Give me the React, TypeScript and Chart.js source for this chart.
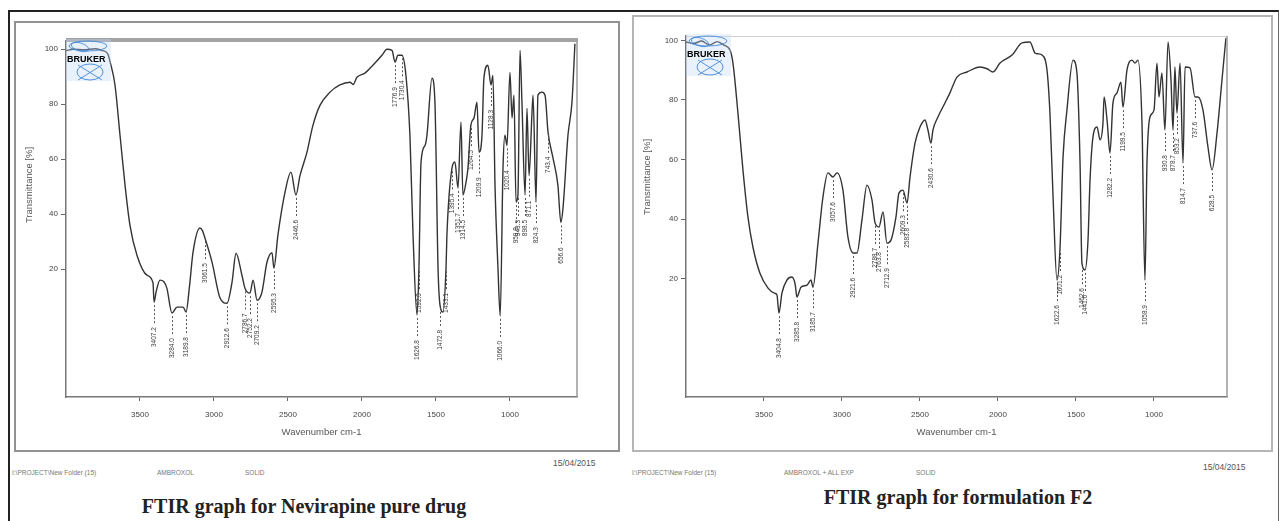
import React, { useEffect, useRef } from "react";
import { Chart, registerables } from "chart.js";

Chart.register(...registerables);

// ---------- DATA ----------
const leftWavenumbers = [
  4000, 3950, 3880, 3800, 3760, 3720, 3700, 3669, 3635, 3601, 3568, 3520, 3453, 3412, 3405, 3390, 3365, 3340, 3318, 3284,
  3250, 3209, 3189, 3165, 3142, 3095, 3078, 3061, 3013, 2959, 2912, 2878, 2851, 2811, 2790, 2757, 2736, 2709, 2676, 2642,
  2608, 2595, 2568, 2520, 2480, 2446, 2419, 2372, 2331, 2284, 2216, 2149, 2081, 2060, 2034, 1980, 1926, 1865, 1831, 1797,
  1777, 1757, 1730, 1703, 1676, 1655, 1628, 1615, 1601, 1574, 1561, 1527, 1507, 1486, 1473, 1453, 1432, 1426, 1392, 1372,
  1351, 1331, 1318, 1297, 1284, 1264, 1243, 1223, 1209, 1189, 1176, 1149, 1128, 1115, 1101, 1081, 1066, 1047, 1034, 1020,
  1000, 986, 973, 959, 946, 932, 919, 898, 885, 871, 851, 844, 824, 811, 784, 763, 743, 709, 676, 656,
  642, 608, 581, 561,
];
const leftTransmittance = [
  99.5, 100, 99.8, 100.2, 99.6, 98.5, 95, 87, 68.7, 50.5, 36, 25, 17.8, 15, 8, 12, 16, 15.5, 13, 4,
  6.2, 6.2, 4.4, 14, 26, 35, 34, 31.3, 22.5, 9.5, 7.6, 15.3, 25.8, 17.8, 13, 11.3, 16, 8.7, 11.6, 22.5,
  26, 20.4, 32.4, 48, 55.3, 47, 54, 62.5, 72.4, 79.6, 84.4, 87, 88, 87.2, 89.8, 91.3, 94.2, 97.8, 100, 99.6,
  95.3, 97.8, 97.8, 90.5, 68.7, 32.4, 3.3, 20.4, 59, 65, 68.7, 89.5, 80.7, 20.4, 7, 4.4, 20.4, 32.4, 56.7, 59,
  49.5, 73.5, 47, 51.6, 56.7, 72.4, 75, 80.7, 62.5, 68.7, 89.5, 94.2, 87, 90.5, 50.5, 20.4, 3, 56.7, 68.7, 65,
  91.6, 75, 83.3, 44.4, 47, 99.6, 80.7, 47, 78.5, 54, 77, 83.3, 44.4, 83.3, 84.4, 83.3, 70, 60.4, 50.5, 37,
  42, 68.7, 80.7, 102,
];
const leftPeakWavenumbers = [
  3405, 3284, 3189, 3061, 2912, 2790, 2757, 2709, 2595, 2446, 1777, 1730, 1628, 1615, 1473, 1432, 1392, 1351, 1318, 1264,
  1209, 1128, 1066, 1020, 959, 946, 898, 871, 824, 743, 656,
];
const leftPeakLabels = [
  "3407.2", "3284.0", "3189.8", "3061.5", "2912.6", "2786.7", "2752.2", "2709.2", "2595.3", "2446.6", "1776.9", "1730.4",
  "1626.8", "1592.0", "1472.8", "1433.1", "1395.4", "1351.7", "1314.5", "1264.5", "1209.9", "1128.3", "1066.0", "1020.4",
  "959.8", "943.3", "898.5", "871.1", "824.3", "743.4", "656.6",
];

const rightWavenumbers = [
  4000, 3950, 3900, 3850, 3800, 3760, 3718, 3699, 3667, 3635, 3603, 3571, 3526, 3474, 3430, 3417, 3404, 3385, 3353, 3321,
  3300, 3289, 3263, 3224, 3199, 3186, 3154, 3122, 3090, 3058, 3032, 2994, 2962, 2929, 2904, 2872, 2840, 2808, 2788, 2763,
  2737, 2712, 2686, 2654, 2635, 2609, 2583, 2564, 2532, 2500, 2468, 2449, 2430, 2417, 2385, 2340, 2308, 2263, 2199, 2115,
  2070, 2032, 1987, 1910, 1846, 1795, 1763, 1740, 1718, 1686, 1667, 1647, 1622, 1603, 1583, 1558, 1519, 1494, 1474, 1462,
  1442, 1423, 1410, 1391, 1365, 1346, 1327, 1320, 1301, 1282, 1263, 1237, 1212, 1199, 1173, 1141, 1122, 1103, 1077, 1058,
  1045, 1026, 1000, 981, 968, 949, 930, 910, 891, 878, 866, 853, 833, 814, 801, 769, 737, 718, 686, 654,
  628, 596, 566, 539,
];
const rightTransmittance = [
  99.5, 99, 99.8, 98.5, 99.6, 98.5, 96.8, 92.4, 75.6, 56.5, 40.7, 30.6, 21.8, 16.8, 15, 14.5, 8.4, 15.1, 19.5, 20.5,
  18, 13.8, 17.1, 17.8, 19.5, 17.1, 31.9, 47.4, 55.5, 54.1, 55.5, 49.7, 34, 28.6, 28.6, 39.7, 51.4, 46.4, 38.7, 37.3,
  42.4, 31.9, 32.9, 40.7, 48.7, 49.7, 45.4, 54.1, 65.5, 70.9, 73.3, 69.9, 65.5, 69.9, 74.3, 79, 82.4, 87.7, 89.4, 91.1,
  90.5, 89.4, 92.4, 95.1, 99.2, 99.5, 95.8, 95.5, 95.1, 90.1, 75.6, 47.4, 19.5, 29.6, 60.8, 76.6, 93.4, 89.1, 58.8, 25.2,
  22.9, 32.9, 53.1, 67.6, 70.9, 66.6, 72.3, 81, 73.3, 62.2, 79, 82.4, 86, 77.6, 90.1, 93.4, 92.4, 93.4, 72.3, 19.5,
  58.8, 74.3, 76.6, 92.4, 81, 89.1, 69.9, 99.5, 86.7, 69.9, 91.1, 75.6, 92.4, 58.8, 91.1, 90.8, 81, 81, 76.6, 64.2,
  56.5, 68.9, 85.7, 100.8,
];
const rightPeakWavenumbers = [
  3404, 3289, 3186, 3058, 2929, 2788, 2763, 2712, 2609, 2583, 2430, 1622, 1603, 1462, 1442, 1282, 1199, 1058, 930, 878,
  853, 814, 737, 628,
];
const rightPeakLabels = [
  "3404.8", "3285.8", "3185.7", "3057.6", "2921.6", "2788.7", "2763.8", "2712.9", "2609.3", "2583.8", "2430.6", "1622.6",
  "1601.2", "1462.6", "1441.6", "1282.2", "1199.5", "1058.9", "930.8", "878.7", "853.2", "814.7", "737.6", "628.5",
];

const xTickValues = [3500, 3000, 2500, 2000, 1500, 1000];
const yTickValues = [20, 40, 60, 80, 100];

// ---------- COMPONENT ----------
type SpecProps = {
  wn: number[];
  t: number[];
  peakWn: number[];
  peakLabels: string[];
  xMin: number;
  yMin: number;
  yMax: number;
  left: number;
  top: number;
  width: number;
  height: number;
  padTop: number;
  padRight: number;
  yAxisWidth: number;
  thickTop: boolean;
  yTitleX: number;
  yTitleY: number;
  xTitleY: number;
};

function Spectrum(p: SpecProps) {
  const ref = useRef<HTMLCanvasElement | null>(null);
  useEffect(() => {
    const data = p.wn.map((w, i) => ({ x: w, y: p.t[i] }));
    const overlay = {
      id: "overlay",
      afterDatasetsDraw(chart: any) {
        const { ctx, chartArea: a, scales } = chart;
        const xs = scales.x;
        const ys = scales.y;
        ctx.save();
        // frame: top and right
        if (p.thickTop) {
          ctx.strokeStyle = "#a3a3a3";
          ctx.lineWidth = 4;
          ctx.beginPath();
          ctx.moveTo(a.left, a.top - 1);
          ctx.lineTo(a.right + 1, a.top - 1);
          ctx.stroke();
        } else {
          ctx.strokeStyle = "#cfcfcf";
          ctx.lineWidth = 1;
          ctx.beginPath();
          ctx.moveTo(a.left, a.top + 0.5);
          ctx.lineTo(a.right, a.top + 0.5);
          ctx.stroke();
        }
        ctx.strokeStyle = "#9a9a9a";
        ctx.lineWidth = 1.5;
        ctx.beginPath();
        ctx.moveTo(a.right, a.top);
        ctx.lineTo(a.right, a.bottom);
        ctx.stroke();

        // peak labels
        ctx.fillStyle = "#3a3a3a";
        ctx.strokeStyle = "#555";
        ctx.lineWidth = 1;
        ctx.font = "6.5px Arial, 'Liberation Sans', sans-serif";
        p.peakWn.forEach((pw, k) => {
          let best = 0;
          let bd = Infinity;
          p.wn.forEach((w, i) => {
            const d = Math.abs(w - pw);
            if (d < bd) {
              bd = d;
              best = i;
            }
          });
          const x = Math.round(xs.getPixelForValue(p.wn[best])) + 0.5;
          const y = ys.getPixelForValue(p.t[best]);
          ctx.setLineDash([2, 2]);
          ctx.beginPath();
          ctx.moveTo(x, y + 3);
          ctx.lineTo(x, y + 22);
          ctx.stroke();
          ctx.setLineDash([]);
          ctx.save();
          ctx.translate(x, y + 25);
          ctx.rotate(-Math.PI / 2);
          ctx.textAlign = "right";
          ctx.textBaseline = "middle";
          ctx.fillText(p.peakLabels[k], 0, 0);
          ctx.restore();
        });

        // Bruker logo
        const lx = a.left;
        const ly = a.top;
        ctx.fillStyle = "rgba(190,215,245,0.35)";
        ctx.fillRect(lx, ly - 2, 45, 42);
        ctx.strokeStyle = "rgba(60,130,215,0.85)";
        ctx.lineWidth = 1;
        ctx.beginPath();
        ctx.ellipse(lx + 22, ly + 5, 19, 5, 0, 0, Math.PI * 2);
        ctx.stroke();
        ctx.beginPath();
        ctx.ellipse(lx + 14, ly + 6, 9, 4, 0.3, 0, Math.PI * 2);
        ctx.stroke();
        ctx.beginPath();
        ctx.ellipse(lx + 24, ly + 31, 13, 8, 0, 0, Math.PI * 2);
        ctx.stroke();
        ctx.beginPath();
        ctx.moveTo(lx + 12, ly + 24);
        ctx.lineTo(lx + 36, ly + 39);
        ctx.moveTo(lx + 36, ly + 24);
        ctx.lineTo(lx + 12, ly + 39);
        ctx.stroke();
        ctx.fillStyle = "#000";
        ctx.font = "bold 9px Arial, 'Liberation Sans', sans-serif";
        ctx.textAlign = "left";
        ctx.textBaseline = "middle";
        ctx.fillText("BRUKER", lx + 1, ly + 19);

        // axis titles
        ctx.fillStyle = "#555";
        ctx.font = "9.5px Arial, 'Liberation Sans', sans-serif";
        ctx.textAlign = "center";
        ctx.textBaseline = "middle";
        ctx.fillText("Wavenumber cm-1", (a.left + a.right) / 2, p.xTitleY);
        ctx.save();
        ctx.translate(p.yTitleX, p.yTitleY);
        ctx.rotate(-Math.PI / 2);
        ctx.fillText("Transmittance [%]", 0, 0);
        ctx.restore();
        ctx.restore();
      },
    };
    const tickFont = { family: "Arial, 'Liberation Sans', sans-serif", size: 8 };
    const chart = new Chart(ref.current as HTMLCanvasElement, {
      type: "line",
      data: {
        datasets: [
          {
            data,
            borderColor: "#333",
            borderWidth: 1.4,
            pointRadius: 0,
            cubicInterpolationMode: "monotone",
            fill: false,
          },
        ],
      },
      options: {
        animation: false,
        responsive: false,
        maintainAspectRatio: false,
        layout: { padding: { top: p.padTop, right: p.padRight, left: 0, bottom: 0 } },
        plugins: { legend: { display: false }, tooltip: { enabled: false } },
        scales: {
          x: {
            type: "linear",
            reverse: true,
            min: p.xMin,
            max: 4000,
            afterBuildTicks: (s: any) => {
              s.ticks = xTickValues.map((v) => ({ value: v }));
            },
            afterFit: (s: any) => {
              s.height = 53;
            },
            grid: { drawOnChartArea: false, drawTicks: true, tickLength: 4, color: "#666", tickColor: "#666" },
            border: { display: true, color: "#777", width: 1.5 },
            ticks: {
              font: tickFont,
              color: "#444",
              padding: 9,
              maxRotation: 0,
              autoSkip: false,
              callback: (v: any) => String(v),
            },
          },
          y: {
            type: "linear",
            min: p.yMin,
            max: p.yMax,
            afterBuildTicks: (s: any) => {
              s.ticks = yTickValues.map((v) => ({ value: v }));
            },
            afterFit: (s: any) => {
              s.width = p.yAxisWidth;
            },
            grid: { drawOnChartArea: false, drawTicks: true, tickLength: 5, color: "#666", tickColor: "#666" },
            border: { display: true, color: "#777", width: 1.5 },
            ticks: { font: tickFont, color: "#444", padding: 3, autoSkip: false, callback: (v: any) => String(v) },
          },
        },
      },
      plugins: [overlay as any],
    });
    return () => chart.destroy();
  }, []);
  return (
    <canvas
      ref={ref}
      width={p.width}
      height={p.height}
      style={{ position: "absolute", left: p.left, top: p.top, width: p.width, height: p.height }}
    />
  );
}

function Txt(props: { x: number; y: number; size: number; color?: string; children: React.ReactNode; bold?: boolean; serif?: boolean; center?: boolean }) {
  return (
    <div
      style={{
        position: "absolute",
        left: props.x,
        top: props.y,
        transform: props.center ? "translate(-50%, -50%)" : "translate(0, -50%)",
        fontSize: props.size,
        lineHeight: 1,
        whiteSpace: "nowrap",
        color: props.color || "#666",
        fontWeight: props.bold ? "bold" : "normal",
        fontFamily: props.serif ? "'Liberation Serif', 'Times New Roman', serif" : "Arial, 'Liberation Sans', sans-serif",
      }}
    >
      {props.children}
    </div>
  );
}

export default function App() {
  return (
    <div style={{ position: "fixed", left: 0, top: 0, width: 1280, height: 521, background: "#fff", overflow: "hidden" }}>
      {/* outer frame */}
      <div style={{ position: "absolute", left: 8, top: 10, width: 1268, height: 520, borderTop: "2px solid #222", borderLeft: "2px solid #222", borderRight: "1px solid #666" }} />
      {/* panel boxes */}
      <div style={{ position: "absolute", left: 14, top: 21, width: 602, height: 427, border: "2px solid #929292" }} />
      <div style={{ position: "absolute", left: 632, top: 15, width: 637, height: 433, border: "2px solid #b5b5b5" }} />

      <Spectrum
        wn={leftWavenumbers}
        t={leftTransmittance}
        peakWn={leftPeakWavenumbers}
        peakLabels={leftPeakLabels}
        xMin={547}
        yMin={-26.5}
        yMax={103}
        left={16}
        top={23}
        width={600}
        height={427}
        padTop={18}
        padRight={39}
        yAxisWidth={50}
        thickTop={true}
        yTitleX={13}
        yTitleY={162}
        xTitleY={409}
      />
      <Spectrum
        wn={rightWavenumbers}
        t={rightTransmittance}
        peakWn={rightPeakWavenumbers}
        peakLabels={rightPeakLabels}
        xMin={532}
        yMin={-19.8}
        yMax={101.5}
        left={634}
        top={17}
        width={635}
        height={433}
        padTop={19}
        padRight={42}
        yAxisWidth={52}
        thickTop={false}
        yTitleX={13}
        yTitleY={160}
        xTitleY={415}
      />

      {/* footers */}
      <Txt x={12} y={473} size={6.5} color="#777">I:\PROJECT\New Folder (15)</Txt>
      <Txt x={157} y={473} size={6.5} color="#777">AMBROXOL</Txt>
      <Txt x={245} y={473} size={6.5} color="#777">SOLID</Txt>
      <Txt x={553} y={463} size={8.5} color="#555">15/04/2015</Txt>

      <Txt x={632} y={473} size={6.5} color="#777">I:\PROJECT\New Folder (15)</Txt>
      <Txt x={784} y={473} size={6.5} color="#777">AMBROXOL + ALL EXP</Txt>
      <Txt x={916} y={473} size={6.5} color="#777">SOLID</Txt>
      <Txt x={1203} y={467} size={8.5} color="#555">15/04/2015</Txt>

      {/* captions */}
      <Txt x={304} y={506} size={20} color="#222" bold serif center>FTIR graph for Nevirapine pure drug</Txt>
      <Txt x={958} y={497} size={20} color="#222" bold serif center>FTIR graph for formulation F2</Txt>
    </div>
  );
}
